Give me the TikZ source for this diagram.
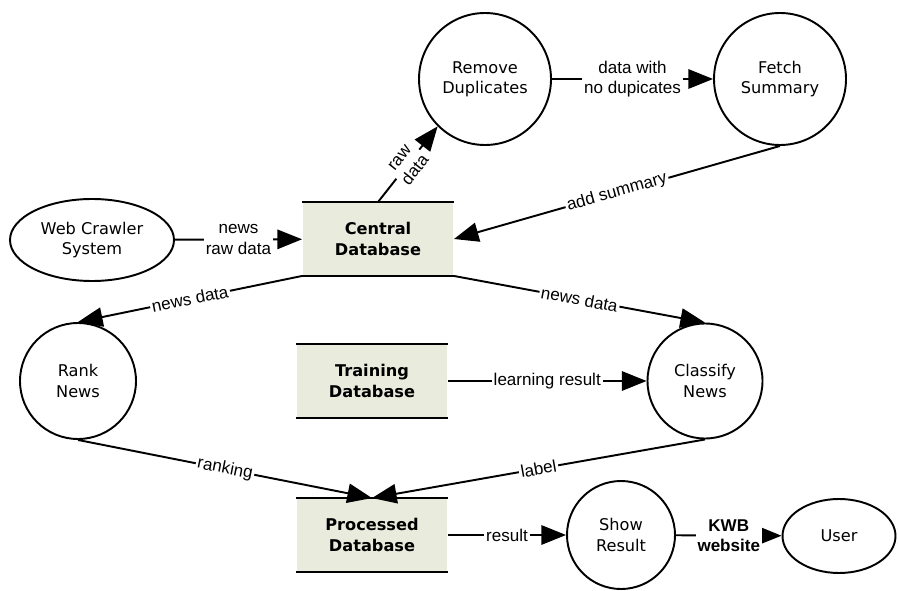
\documentclass[tikz,border=0pt]{standalone}
\usepackage{fontspec}
\setmainfont{DejaVu Sans}
\newfontfamily\lblfont{Liberation Sans}
\usetikzlibrary{arrows.meta,shapes.geometric}
\definecolor{storefill}{HTML}{E9EBDC}

\begin{document}
\begin{tikzpicture}[
  line width=1.1pt,
  >={Triangle[length=14pt,width=11pt]},
  proc/.style={draw, circle, align=center, inner sep=0pt, font=\fontsize{9.2}{11.5}\selectfont},
  ext/.style={draw, ellipse, align=center, inner sep=0pt, font=\fontsize{9.2}{11.5}\selectfont},
  store/.style={fill=storefill, minimum width=3cm, minimum height=1.44cm, align=center,
    font=\fontsize{9.2}{11.5}\selectfont\bfseries,
    append after command={\pgfextra{\draw[line width=1.1pt]
      (\tikzlastnode.north west) -- (\tikzlastnode.north east)
      (\tikzlastnode.south west) -- (\tikzlastnode.south east);}}},
  flow/.style={fill=white, inner sep=1pt, align=center, font=\lblfont\fontsize{9.7}{11.5}\selectfont}
]
\useasboundingbox (0,0) rectangle (17.96,11.8);

% stores
\node [store] (central) at (7.56,7.02) {Central\\Database};
\node [store] (training) at (7.44,4.18) {Training\\Database};
\node [store] (processed) at (7.44,1.1) {Processed\\Database};

% processes and externals
\node [ext, minimum width=3.28cm, minimum height=1.64cm] (crawler) at (1.84,7.0) {Web Crawler\\System};
\node [proc, minimum size=2.64cm] (remove) at (9.7,10.22) {Remove\\Duplicates};
\node [proc, minimum size=2.64cm] (fetch) at (15.6,10.22) {Fetch\\Summary};
\node [proc, minimum size=2.32cm] (rank) at (1.56,4.18) {Rank\\News};
\node [proc, minimum size=2.3cm] (classify) at (14.1,4.18) {Classify\\News};
\node [proc, minimum size=2.16cm] (show) at (12.42,1.1) {Show\\Result};
\node [ext, minimum width=2.26cm, minimum height=1.48cm] (user) at (16.78,1.08) {User};

% flows
\draw [->] (crawler) -- node [flow] {news\\raw data} (central);
\draw [->] (central.north) -- node [flow, sloped] {raw\\data} (remove.south west);
\draw [->] (remove) -- node [flow] {data with\\no dupicates} (fetch);
\draw [->] (fetch.south) -- node [flow, sloped] {add summary} (central.east);
\draw [->] (central.south west) -- node [flow, sloped] {news data} (rank.north);
\draw [->] (central.south east) -- node [flow, sloped] {news data} (classify.north);
\draw [->] (training) -- node [flow] {learning result} (classify);
\draw [->] (rank.south) -- node [flow, sloped] {ranking} (processed.north);
\draw [->] (classify.south) -- node [flow, sloped] {label} (processed.north);
\draw [->] (processed) -- node [flow] {result} (show);
\draw [->] (show) -- node [flow, font=\lblfont\bfseries\fontsize{9.7}{11.5}\selectfont] {KWB\\website} (user);
\end{tikzpicture}
\end{document}
